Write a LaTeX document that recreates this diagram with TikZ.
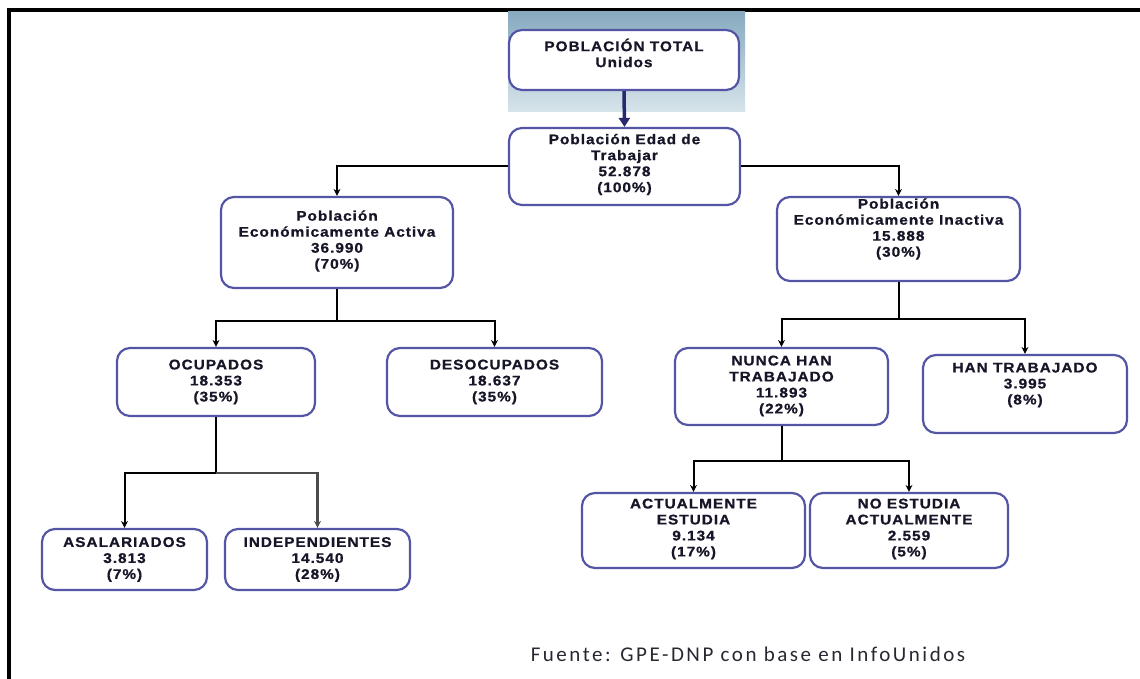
\documentclass[tikz,border=0pt]{standalone}
\usepackage{fontspec}
\setmainfont{Liberation Sans}
\newfontfamily\boxfont[FakeStretch=1.1,LetterSpace=7,FakeBold=0.8]{Liberation Sans Bold}
\newfontfamily\footfont[LetterSpace=12]{Carlito}
\usetikzlibrary{arrows.meta,calc}
\definecolor{boxborder}{RGB}{85,85,165}
\definecolor{txtc}{RGB}{22,22,40}
\definecolor{shadetop}{RGB}{135,170,192}
\definecolor{shadebot}{RGB}{215,228,234}
\definecolor{arrnavy}{RGB}{40,40,110}
\definecolor{footc}{RGB}{40,40,50}
\tikzset{
 box/.style={draw=boxborder, line width=2.2pt, rounded corners=13pt, fill=white, inner sep=0pt},
 lbl/.style={font=\boxfont\fontsize{14}{16}\selectfont, text=txtc, align=center, inner sep=0pt},
 link/.style={draw=black, line width=2pt},
 arr/.style={link, -{Stealth[length=7pt,width=7pt]}},
}
\begin{document}
\begin{tikzpicture}[x=1pt,y=-1pt]
\useasboundingbox (0,0) rectangle (1140,679);
\fill[white] (0,0) rectangle (1140,679);
% frame
\draw[line width=4pt] (9,679) -- (9,10) -- (1140,10);
% shaded background
\shade[top color=shadetop, bottom color=shadebot] (508,12) rectangle (745,112);
% boxes
\node[box, minimum width=230pt, minimum height=60pt] (b1) at (624,60) {};
\node[box, minimum width=231pt, minimum height=77pt] (b2) at (624.5,166.5) {};
\node[box, minimum width=232pt, minimum height=91pt] (b3) at (337,242.5) {};
\node[box, minimum width=243pt, minimum height=84pt] (b4) at (898.5,239) {};
\node[box, minimum width=198pt, minimum height=68pt] (b5) at (216,382) {};
\node[box, minimum width=215pt, minimum height=68pt] (b6) at (494.5,382) {};
\node[box, minimum width=213pt, minimum height=77pt] (b7) at (781.5,386.5) {};
\node[box, minimum width=204pt, minimum height=78pt] (b8) at (1025,394) {};
\node[box, minimum width=165pt, minimum height=61pt] (b9) at (124.5,559.5) {};
\node[box, minimum width=185pt, minimum height=61pt] (b10) at (317.5,559.5) {};
\node[box, minimum width=223pt, minimum height=75pt] (b11) at (693.5,530.5) {};
\node[box, minimum width=198pt, minimum height=75pt] (b12) at (909,530.5) {};
% labels
\node[lbl] (t1) at (624,53) {POBLACIÓN TOTAL\\Unidos};
\node[lbl] (t2) at (624.5,164.5) {Población Edad de\\Trabajar\\52.878\\(100\%)};
\node[lbl] (t3) at (337,241) {Población\\Económicamente Activa\\36.990\\(70\%)};
\node[lbl] (t4) at (898.5,229) {Población\\Económicamente Inactiva\\15.888\\(30\%)};
\node[lbl] (t5) at (216,382) {OCUPADOS\\18.353\\(35\%)};
\node[lbl] (t6) at (494.5,382) {DESOCUPADOS\\18.637\\(35\%)};
\node[lbl] (t7) at (781.5,386) {NUNCA HAN\\TRABAJADO\\11.893\\(22\%)};
\node[lbl] (t8) at (1025,385) {HAN TRABAJADO\\3.995\\(8\%)};
\node[lbl] (t9) at (124.5,559.5) {ASALARIADOS\\3.813\\(7\%)};
\node[lbl] (t10) at (317.5,559.5) {INDEPENDIENTES\\14.540\\(28\%)};
\node[lbl] (t11) at (693.5,529) {ACTUALMENTE\\ESTUDIA\\9.134\\(17\%)};
\node[lbl] (t12) at (909,529) {NO ESTUDIA\\ACTUALMENTE\\2.559\\(5\%)};
% connectors
\draw[line width=3.5pt, arrnavy, -{Triangle[length=9pt,width=11pt]}] (b1.south) -- (b2.north);
\draw[arr] (b2.west) -| (b3.north);
\draw[arr] (b2.east) -| (b4.north);
\coordinate (j3) at ($(b3.south)+(0,32)$);
\draw[link] (b3.south) -- (j3);
\draw[arr] (j3) -| (b5.north);
\draw[arr] (j3) -| (b6.north);
\coordinate (j4) at ($(b4.south)+(0,37)$);
\draw[link] (b4.south) -- (j4);
\draw[arr] (j4) -| (b7.north);
\draw[arr] (j4) -| (b8.north);
\coordinate (j5) at ($(b5.south)+(0,56)$);
\draw[link] (b5.south) -- (j5);
\draw[arr] (j5) -| (b9.north);
\draw[arr, draw=black!70, line width=2.6pt] (j5) -| (b10.north);
\coordinate (j7) at ($(b7.south)+(0,35)$);
\draw[link] (b7.south) -- (j7);
\draw[arr] (j7) -| (b11.north);
\draw[arr] (j7) -| (b12.north);
% source
\node[font=\footfont\fontsize{21}{24}\selectfont, text=footc] (src) at (748,654) {Fuente: GPE-DNP con base en InfoUnidos};
\end{tikzpicture}
\end{document}
